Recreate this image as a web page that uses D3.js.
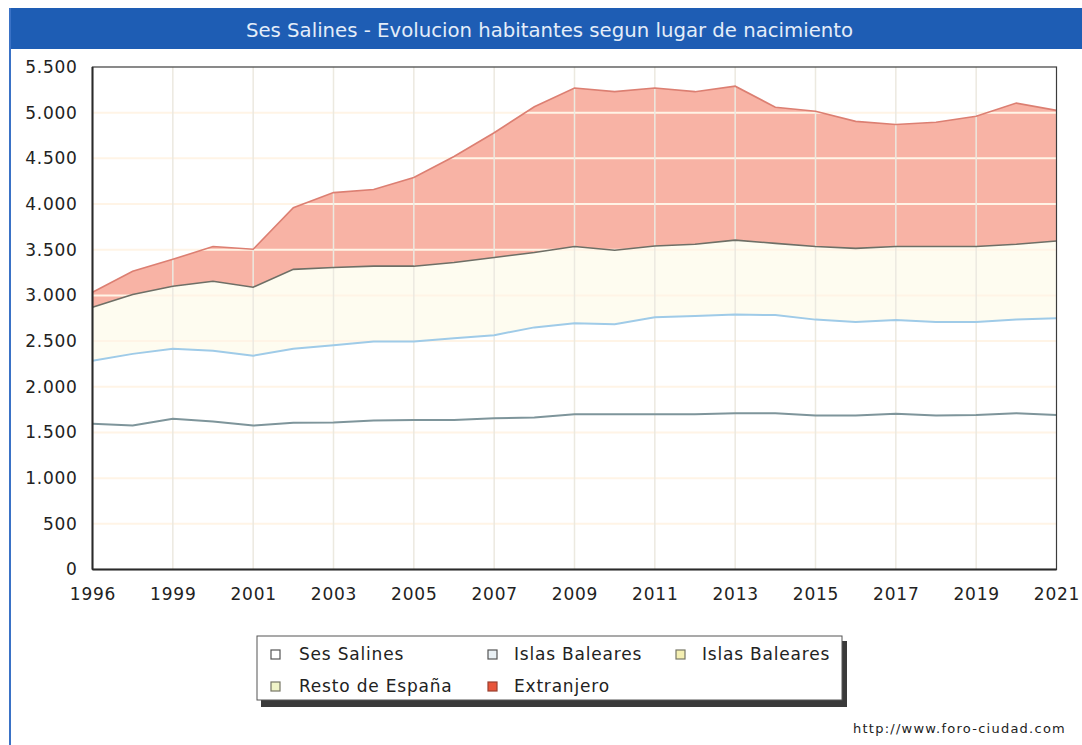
<!DOCTYPE html>
<html>
<head>
<meta charset="utf-8">
<script src="https://cdn.jsdelivr.net/npm/d3@7/dist/d3.min.js"></script>
<style>
  html, body { margin: 0; padding: 0; background: #ffffff; }
  svg { display: block; font-family: "DejaVu Sans", Verdana, sans-serif; }
</style>
</head>
<body>
<svg id="chart" width="1082" height="745"></svg>
<script>
const titleText = "Ses Salines - Evolucion habitantes segun lugar de nacimiento";
const footerText = "http://www.foro-ciudad.com";

const categories = ["1996","1998","1999","2000","2001","2002","2003","2004","2005","2006","2007","2008",
  "2009","2010","2011","2012","2013","2014","2015","2016","2017","2018","2019","2020","2021"];
const tickLabels = ["1996","1999","2001","2003","2005","2007","2009","2011","2013","2015","2017","2019","2021"];
const yTicks = [0,500,1000,1500,2000,2500,3000,3500,4000,4500,5000,5500];

const sesSalines    = [1595,1575,1650,1620,1575,1605,1610,1630,1635,1635,1655,1665,1700,1700,1700,1700,1710,1710,1685,1685,1705,1685,1690,1710,1690];
const islasBaleares = [690,785,765,775,765,810,845,865,860,895,910,985,995,985,1060,1075,1080,1075,1050,1025,1025,1025,1020,1025,1060];
const restoEspana   = [585,650,685,760,750,870,850,825,825,830,850,820,840,810,780,785,815,785,800,805,805,825,825,825,845];
const extranjero    = [165,255,295,380,415,675,820,840,970,1160,1365,1595,1735,1735,1730,1670,1685,1490,1480,1390,1335,1360,1425,1545,1430];

const legendLabels = ["Ses Salines","Islas Baleares","Islas Baleares","Resto de España","Extranjero"];
const legendFills  = ["#ffffff","#e9f0f4","#f4efb2","#f1f5c8","#e8553a"];
const legendStrokes= ["#555555","#555555","#777766","#777766","#9a4030"];

const seriesKeys   = ["sesSalines","islasBaleares","restoEspana","extranjero"];
const seriesFill   = {sesSalines:"#ffffff", islasBaleares:"#ffffff", restoEspana:"#fefcf0", extranjero:"#f8b3a5"};
const seriesLine   = {sesSalines:"#7e959b", islasBaleares:"#9fcbe8", restoEspana:"#6e6f66", extranjero:"#dc7f72"};
const seriesWidth  = {sesSalines:2, islasBaleares:2, restoEspana:1.6, extranjero:1.6};

const table = categories.map((c, i) => ({
  year: c,
  sesSalines: sesSalines[i],
  islasBaleares: islasBaleares[i],
  restoEspana: restoEspana[i],
  extranjero: extranjero[i]
}));

const svg = d3.select("#chart");

// frame
svg.append("rect").attr("x", 9).attr("y", 8).attr("width", 1073).attr("height", 41).attr("fill", "#1e5db4");
svg.append("line").attr("x1", 10).attr("x2", 10).attr("y1", 8).attr("y2", 745)
  .attr("stroke", "#3a72c6").attr("stroke-width", 2);
svg.append("text").attr("x", 549.5).attr("y", 37).attr("text-anchor", "middle")
  .attr("fill", "#e4edf9").attr("font-size", 19.7).text(titleText);

const pLeft = 92.5, pRight = 1056.5, pTop = 67, pBottom = 569.5;
const x = d3.scalePoint().domain(categories).range([pLeft, pRight]);
const y = d3.scaleLinear().domain([0, 5500]).range([pBottom, pTop]);

const stacked = d3.stack().keys(seriesKeys)(table);

const area = d3.area()
  .x(d => x(d.data.year))
  .y0(d => y(d[0]))
  .y1(d => y(d[1]));
const line = d3.line()
  .x(d => x(d.data.year))
  .y(d => y(d[1]));

const plot = svg.append("g");
plot.selectAll("path.area").data(stacked).join("path")
  .attr("class", "area")
  .attr("d", area)
  .attr("fill", d => seriesFill[d.key]);

// grid
const grid = svg.append("g");
grid.selectAll("line.h").data(yTicks.filter(v => v > 0 && v < 5500)).join("line")
  .attr("class", "h")
  .attr("x1", pLeft).attr("x2", pRight)
  .attr("y1", d => y(d)).attr("y2", d => y(d))
  .attr("stroke", "#fff4e6").attr("stroke-width", 2);
grid.selectAll("line.v").data(tickLabels.slice(1, -1)).join("line")
  .attr("class", "v")
  .attr("x1", d => x(d)).attr("x2", d => x(d))
  .attr("y1", pTop).attr("y2", pBottom)
  .attr("stroke", "#ece9e0").attr("stroke-width", 1.5);

svg.append("g").selectAll("path.line").data(stacked).join("path")
  .attr("class", "line")
  .attr("d", line)
  .attr("fill", "none")
  .attr("stroke", d => seriesLine[d.key])
  .attr("stroke-width", d => seriesWidth[d.key]);

// plot border
svg.append("rect").attr("x", pLeft).attr("y", pTop).attr("width", pRight - pLeft).attr("height", pBottom - pTop)
  .attr("fill", "none").attr("stroke", "#3c3c3c").attr("stroke-width", 1.2);
svg.append("line").attr("x1", pLeft).attr("x2", pLeft).attr("y1", pTop).attr("y2", pBottom)
  .attr("stroke", "#2a2a2a").attr("stroke-width", 2);
svg.append("line").attr("x1", pLeft).attr("x2", pRight).attr("y1", pBottom).attr("y2", pBottom)
  .attr("stroke", "#2a2a2a").attr("stroke-width", 2);

// axes
const locale = d3.formatLocale({decimal: ",", thousands: ".", grouping: [3], currency: ["", "€"]});
const fmt = locale.format(",d");

const yAxis = svg.append("g").attr("transform", `translate(${pLeft},0)`)
  .call(d3.axisLeft(y).tickValues(yTicks).tickFormat(fmt).tickSize(0).tickPadding(15));
yAxis.select(".domain").remove();
yAxis.selectAll("text").attr("font-size", 17).attr("fill", "#222").style("letter-spacing", "0.7px")
  .attr("font-family", "DejaVu Sans, Verdana, sans-serif");

const xAxis = svg.append("g").attr("transform", `translate(0,${pBottom})`)
  .call(d3.axisBottom(x).tickValues(tickLabels).tickSize(0).tickPadding(18));
xAxis.select(".domain").remove();
xAxis.selectAll("text").attr("font-size", 17).attr("fill", "#222").style("letter-spacing", "0.8px")
  .attr("font-family", "DejaVu Sans, Verdana, sans-serif");

// legend
const lg = svg.append("g");
lg.append("rect").attr("x", 261).attr("y", 641).attr("width", 586).attr("height", 66).attr("fill", "#3a3a3a");
lg.append("rect").attr("x", 257).attr("y", 636).attr("width", 585).attr("height", 64)
  .attr("fill", "#ffffff").attr("stroke", "#555").attr("stroke-width", 1);
const colX = [271, 488, 676];
const rowY = [660, 692];
const items = legendLabels.map((t, i) => ({t, i, col: i % 3, row: Math.floor(i / 3)}));
const li = lg.selectAll("g.item").data(items).join("g").attr("class", "item");
li.append("rect")
  .attr("x", d => colX[d.col]).attr("y", d => rowY[d.row] - 10)
  .attr("width", 9).attr("height", 9)
  .attr("fill", d => legendFills[d.i]).attr("stroke", d => legendStrokes[d.i]).attr("stroke-width", 1.2);
li.append("text")
  .attr("x", d => colX[d.col] + (d.col === 0 ? 28 : 26)).attr("y", d => rowY[d.row])
  .attr("font-size", 17).attr("fill", "#222").style("letter-spacing", "0.8px")
  .text(d => d.t);

svg.append("text").attr("x", 853).attr("y", 733).attr("font-size", 13).attr("fill", "#222")
  .style("letter-spacing", "1.25px").text(footerText);
</script>
</body>
</html>
